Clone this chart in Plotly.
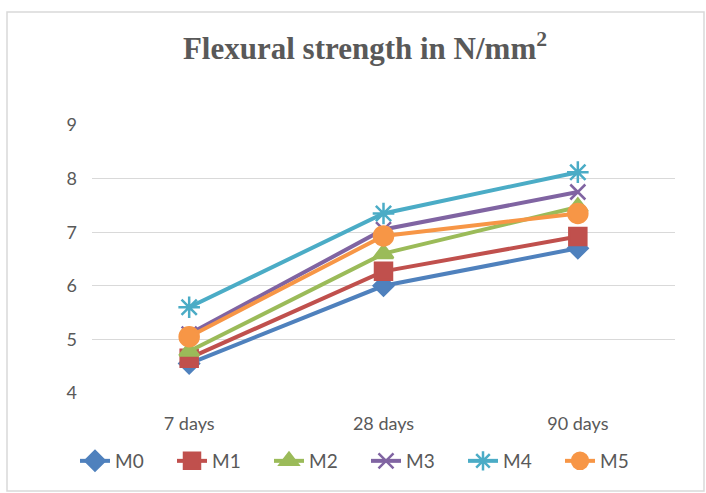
import plotly.graph_objects as go

categories = ["7 days", "28 days", "90 days"]
M0 = [4.55, 6.0, 6.7]
M1 = [4.65, 6.27, 6.92]
M2 = [4.78, 6.6, 7.47]
M3 = [5.1, 7.05, 7.75]
M4 = [5.6, 7.35, 8.12]
M5 = [5.05, 6.93, 7.35]

series = [
    ("M0", M0, "#4F81BD", "diamond", 15),
    ("M1", M1, "#C0504D", "square", 17),
    ("M2", M2, "#9BBB59", "triangle-up", 17),
    ("M3", M3, "#8064A2", "x-thin", 15),
    ("M4", M4, "#4BACC6", "asterisk", 18),
    ("M5", M5, "#F79646", "circle", 19),
]

fig = go.Figure()
for name, vals, color, sym, size in series:
    fig.add_trace(go.Scatter(
        x=categories, y=vals, name=name, mode="lines+markers",
        line=dict(color=color, width=4),
        marker=dict(symbol=sym, size=size, color=color,
                    line=dict(color=color, width=2.5)),
    ))

L, R, T, B = 92, 31, 125, 100
W, H = 706, 493
pw, ph = W - L - R, H - T - B

fig.update_layout(
    width=W, height=H,
    margin=dict(l=L, r=R, t=T, b=B, autoexpand=False),
    paper_bgcolor="white", plot_bgcolor="white",
    title=dict(text="<b>Flexural strength in N/mm<sup>2</sup></b>",
               x=(365 - L) / pw, xref="paper", xanchor="center",
               y=1 - 48 / H, yanchor="middle",
               font=dict(family="Liberation Serif", size=31, color="#595959")),
    xaxis=dict(type="category", range=[-0.5, 2.5], showgrid=False,
               showline=False, ticks="", ticklabelstandoff=18,
               tickfont=dict(family="Lato", size=18, color="#595959")),
    yaxis=dict(range=[4, 9], dtick=1, showgrid=True, gridcolor="#D9D9D9",
               gridwidth=1, zeroline=False, showline=False, ticks="",
               ticklabelstandoff=14,
               tickfont=dict(family="Lato", size=18, color="#595959")),
    legend=dict(orientation="h", x=(366 - L) / pw, xanchor="center",
                y=-(461 - (T + ph)) / ph, yanchor="middle",
                font=dict(family="Lato", size=19, color="#595959"),
                entrywidth=52, entrywidthmode="pixels", tracegroupgap=0),
    showlegend=True,
)

fig.add_shape(type="rect", xref="paper", yref="paper",
              x0=(7 - L) / pw, x1=(704 - L) / pw,
              y0=(H - B - 491) / ph, y1=(H - B - 12) / ph,
              line=dict(color="#D9D9D9", width=1.5), fillcolor="rgba(0,0,0,0)",
              layer="below")

fig.write_html("out.html")
